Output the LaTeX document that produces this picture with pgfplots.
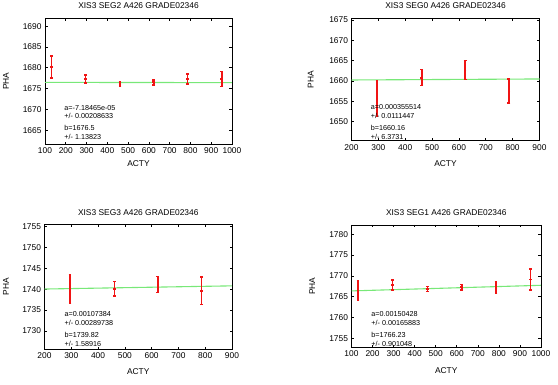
\documentclass[border=0pt]{standalone}
\usepackage{fontspec}
\setmainfont{Liberation Sans}
\usepackage{pgfplots}
\pgfplotsset{compat=1.18}
\definecolor{fitgreen}{RGB}{120,232,120}
\definecolor{barred}{RGB}{240,20,20}
\tikzset{annot/.style={anchor=west, inner sep=0pt, font=\fontsize{7.2bp}{8bp}\selectfont}}
\pgfplotsset{
  every axis title shift=0pt,
  gp/.style={
    scale only axis, anchor=south west,
    axis line style={black, line width=0.9bp},
    tick align=inside, major tick length=2.5bp,
    tick style={black, line width=0.6bp},
    xtick pos=both, ytick pos=both,
    /pgf/number format/assume math mode=true,
    /pgf/number format/set thousands separator={},
    tick label style={font=\fontsize{8.4bp}{10bp}\selectfont},
    label style={font=\fontsize{8.4bp}{10bp}\selectfont},
    title style={font=\fontsize{8.4bp}{10bp}\selectfont},
    xlabel={ACTY}, ylabel={PHA},
    clip=true,
  },
  fitline/.style={draw=fitgreen, line width=1.1bp, no marks},
  ebar/.style={barred, only marks, mark=-, mark size=1.2bp,
    mark options={barred, line width=1.8bp},
    error bars/y dir=both, error bars/y explicit,
    error bars/error bar style={barred, line width=1.8bp, solid},
    error bars/error mark options={barred, mark size=1.4bp, line width=1.5bp, rotate=90}},
}
\begin{document}
\begin{tikzpicture}
\path[use as bounding box] (0,0) rectangle (558bp,385bp);

% Panel 1: SEG2
\begin{axis}[gp, at={(45bp,240.7bp)}, width=187bp, height=126bp,
  xmin=100, xmax=1000, ymin=1661.6, ymax=1691.9,
  xtick={100,200,...,1000}, ytick={1665,1670,...,1690},
  title={XIS3 SEG2 A426 GRADE02346},
  title style={at={(axis description cs:0.5,1.098)}, anchor=center},
  xlabel style={at={(axis description cs:0.5,-0.156)}, anchor=center},
  ylabel style={at={(axis description cs:-0.209,0.5)}, anchor=center}]
\addplot[fitline] coordinates {(100,1676.49) (1000,1676.43)};
\addplot[ebar] coordinates {
 (131,1680.2) +- (0,2.65)
 (295,1677.3) +- (0,1.0)
 (461,1676.0) +- (0,0.55)
 (623,1676.5) +- (0,0.6)
 (786,1677.3) +- (0,1.2)
 (950,1677.3) +- (0,1.8)};
\node[annot] at (rel axis cs:0.103,0.29) {a=-7.18465e-05};
\node[annot] at (rel axis cs:0.103,0.225) {+/- 0.00208633};
\node[annot] at (rel axis cs:0.103,0.132) {b=1676.5};
\node[annot] at (rel axis cs:0.103,0.06) {+/- 1.13823};
\end{axis}

% Panel 2: SEG0
\begin{axis}[gp, at={(351.5bp,244.3bp)}, width=188bp, height=122.4bp,
  xmin=200, xmax=900, ymin=1645.3, ymax=1675.4,
  xtick={200,300,...,900}, ytick={1650,1655,...,1675},
  title={XIS3 SEG0 A426 GRADE02346},
  title style={at={(axis description cs:0.5,1.1)}, anchor=center},
  xlabel style={at={(axis description cs:0.5,-0.19)}, anchor=center},
  ylabel style={at={(axis description cs:-0.217,0.5)}, anchor=center}]
\addplot[fitline] coordinates {(200,1660.23) (900,1660.48)};
\addplot[ebar] coordinates {
 (295,1655.7) +- (0,4.4)
 (461,1660.8) +- (0,1.95)
 (623,1662.7) +- (0,2.3)
 (786,1657.5) +- (0,2.95)};
\node[annot] at (rel axis cs:0.102,0.273) {a=0.000355514};
\node[annot] at (rel axis cs:0.102,0.202) {+/- 0.0111447};
\node[annot] at (rel axis cs:0.102,0.106) {b=1660.16};
\node[annot] at (rel axis cs:0.102,0.033) {+/- 6.3731};
\end{axis}

% Panel 3: SEG3
\begin{axis}[gp, at={(44.5bp,36bp)}, width=187.5bp, height=124.7bp,
  xmin=200, xmax=900, ymin=1725.7, ymax=1755.5,
  xtick={200,300,...,900}, ytick={1730,1735,...,1755},
  title={XIS3 SEG3 A426 GRADE02346},
  title style={at={(axis description cs:0.5,1.093)}, anchor=center},
  xlabel style={at={(axis description cs:0.5,-0.184)}, anchor=center},
  ylabel style={at={(axis description cs:-0.205,0.5)}, anchor=center}]
\addplot[fitline] coordinates {(200,1740.03) (900,1740.79)};
\addplot[ebar] coordinates {
 (295,1740.1) +- (0,3.4)
 (461,1740.1) +- (0,1.7)
 (623,1741.1) +- (0,1.9)
 (786,1739.6) +- (0,3.25)};
\node[annot] at (rel axis cs:0.106,0.278) {a=0.00107384};
\node[annot] at (rel axis cs:0.106,0.208) {+/- 0.00289738};
\node[annot] at (rel axis cs:0.106,0.11) {b=1739.82};
\node[annot] at (rel axis cs:0.106,0.038) {+/- 1.58916};
\end{axis}

% Panel 4: SEG1
\begin{axis}[gp, at={(351.5bp,37.5bp)}, width=189.5bp, height=122.5bp,
  xmin=100, xmax=1000, ymin=1752.8, ymax=1782.2,
  xtick={100,200,...,1000}, ytick={1755,1760,...,1780},
  title={XIS3 SEG1 A426 GRADE02346},
  title style={at={(axis description cs:0.5,1.1)}, anchor=center},
  xlabel style={at={(axis description cs:0.5,-0.192)}, anchor=center},
  ylabel style={at={(axis description cs:-0.207,0.5)}, anchor=center}]
\addplot[fitline] coordinates {(100,1766.38) (1000,1767.73)};
\addplot[ebar] coordinates {
 (131,1766.5) +- (0,2.4)
 (295,1767.8) +- (0,1.2)
 (461,1766.8) +- (0,0.6)
 (623,1767.3) +- (0,0.65)
 (786,1767.1) +- (0,1.4)
 (950,1769.1) +- (0,2.5)};
\node[annot] at (rel axis cs:0.104,0.273) {a=0.00150428};
\node[annot] at (rel axis cs:0.104,0.202) {+/- 0.00165883};
\node[annot] at (rel axis cs:0.104,0.10) {b=1766.23};
\node[annot] at (rel axis cs:0.104,0.026) {+/- 0.901048};
\end{axis}
\end{tikzpicture}
\end{document}
